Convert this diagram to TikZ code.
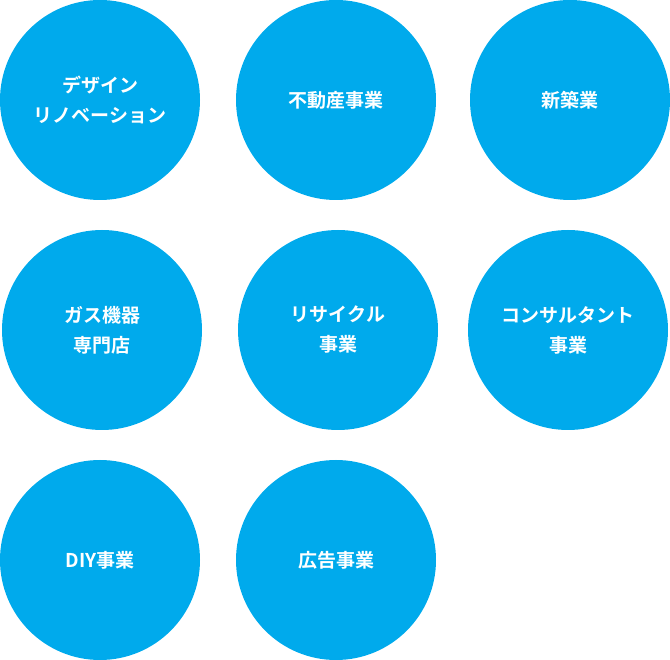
\documentclass[tikz,border=0pt]{standalone}
\usepackage{fontspec}
\newfontfamily\cjk[BoldFont={Noto Sans CJK JP Bold}]{Noto Sans CJK JP}
\definecolor{cblue}{HTML}{00AAEC}
\begin{document}
\begin{tikzpicture}[x=1pt,y=-1pt,
  biz/.style={circle,fill=cblue,minimum size=200pt,inner sep=0pt,text=white,
    font=\cjk\bfseries\fontsize{19}{30}\selectfont,align=center}]
\useasboundingbox (0,0) rectangle (670,660);
\node[biz] (a) at (100,100) {デザイン\\リノベーション};
\node[biz] (b) at (336,100) {不動産事業};
\node[biz] (c) at (570,100) {新築業};
\node[biz] (d) at (102,330) {ガス機器\\専門店};
\node[biz] (e) at (338,330) {リサイクル\\事業};
\node[biz] (f) at (568,330) {コンサルタント\\事業};
\node[biz] (g) at (100,560) {DIY事業};
\node[biz] (h) at (336,560) {広告事業};
\end{tikzpicture}
\end{document}
